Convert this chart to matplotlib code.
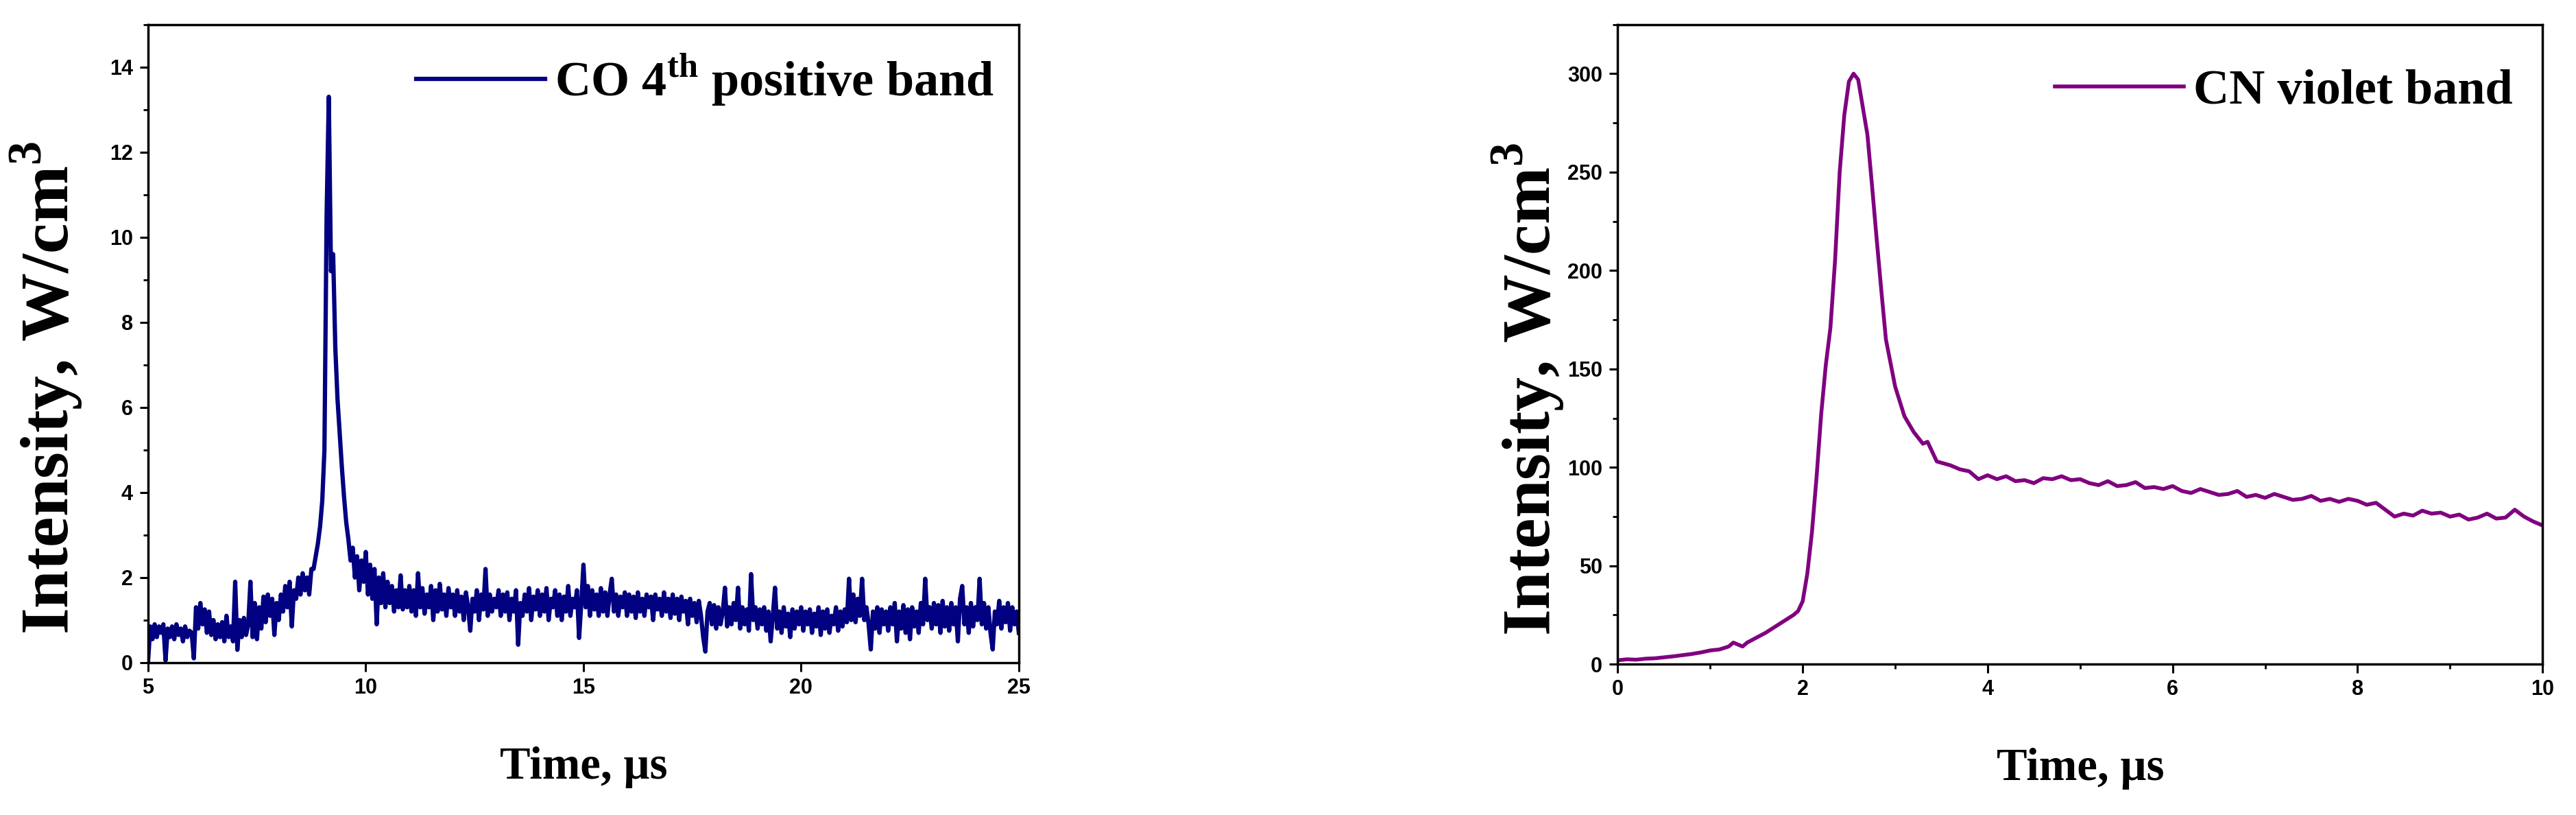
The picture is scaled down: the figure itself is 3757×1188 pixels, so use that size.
import numpy as np
import matplotlib
matplotlib.use('Agg')
import matplotlib.pyplot as plt
from matplotlib.ticker import MultipleLocator
from matplotlib.font_manager import FontProperties

# --- CO 4th positive band (left panel), sampled every 0.05 us from 5 to 25 us ---
co_intensity = [
    0.05, 0.85, 0.55, 0.9, 0.6, 0.85, 0.7, 0.9, 0.05, 0.8, 0.6, 0.85, 0.55, 0.9, 0.65, 0.8, 0.5, 0.85, 0.6, 0.75,   # 5
    0.7, 0.1, 1.3, 0.8, 1.4, 0.9, 1.25, 0.7, 1.2, 0.65, 1.0, 0.55, 0.9, 0.6, 0.95, 0.5, 1.1, 0.6, 0.85, 0.5,        # 6
    1.9, 0.3, 1.0, 0.6, 1.05, 0.65, 0.9, 1.9, 0.6, 1.4, 0.55, 1.3, 0.8, 1.55, 0.95, 1.6, 1.1, 1.5, 0.65, 1.4,       # 7
    1.0, 1.6, 1.2, 1.8, 1.3, 1.9, 0.85, 1.7, 1.5, 2.0, 1.6, 2.1, 1.7, 2.0, 1.6, 2.2, 2.2, 2.5, 2.8, 3.2,            # 8
    3.8, 5.0, 10.5, 13.3, 9.2, 9.6, 7.4, 6.2, 5.4, 4.6, 3.9, 3.3, 2.9, 2.4, 2.7, 2.0, 2.5, 1.7, 2.4, 1.9,          # 9
    2.6, 1.6, 2.3, 1.5, 2.2, 0.9, 2.0, 1.4, 2.1, 1.3, 1.9, 1.4, 1.8, 1.2, 1.7, 1.3, 2.05, 1.25, 1.7, 1.3,          # 10
    1.8, 1.2, 1.7, 1.1, 2.1, 1.3, 1.75, 1.15, 1.6, 1.3, 1.8, 1.0, 1.7, 1.2, 1.85, 1.25, 1.6, 1.1, 1.75, 1.3,       # 11
    1.6, 1.1, 1.7, 1.2, 1.55, 1.0, 1.65, 1.3, 0.75, 1.5, 1.2, 1.7, 1.0, 1.6, 1.25, 2.2, 1.1, 1.6, 1.2, 1.5,        # 12
    1.3, 1.7, 1.1, 1.6, 1.2, 1.65, 1.0, 1.5, 1.2, 1.7, 0.42, 1.4, 1.1, 1.6, 1.2, 1.75, 1.0, 1.55, 1.25, 1.7,       # 13
    1.1, 1.6, 1.2, 1.75, 1.0, 1.5, 1.3, 1.7, 1.1, 1.6, 1.0, 1.55, 1.2, 1.8, 1.1, 1.5, 1.3, 1.7, 0.58, 1.4,         # 14
    2.3, 1.3, 1.8, 1.1, 1.7, 1.25, 1.6, 1.1, 1.75, 1.2, 1.65, 1.1, 1.6, 1.97, 1.2, 1.6, 1.1, 1.55, 1.3, 1.65,      # 15
    1.1, 1.6, 1.2, 1.55, 1.05, 1.65, 1.2, 1.5, 1.1, 1.6, 1.3, 1.55, 1.0, 1.6, 1.25, 1.5, 1.1, 1.65, 1.2, 1.5,      # 16
    1.05, 1.6, 1.15, 1.5, 1.0, 1.55, 1.2, 1.45, 0.9, 1.5, 1.1, 1.4, 0.95, 1.45, 1.1, 0.6, 0.26, 1.2, 1.4, 0.9,     # 17
    1.35, 0.8, 1.3, 0.9, 1.2, 1.76, 0.85, 1.3, 0.9, 1.4, 1.0, 1.76, 0.8, 1.3, 0.9, 1.25, 0.75, 2.08, 1.0, 1.3,     # 18
    0.8, 1.25, 0.9, 1.3, 0.75, 1.2, 0.5, 1.1, 1.76, 0.8, 1.2, 0.7, 1.3, 0.85, 1.15, 0.6, 1.25, 0.8, 1.2, 0.9,      # 19
    1.3, 0.75, 1.2, 0.9, 1.25, 0.7, 1.15, 0.85, 1.3, 0.65, 1.2, 0.8, 1.25, 0.7, 1.1, 0.9, 1.3, 0.75, 1.2, 0.85,    # 20
    1.25, 0.95, 1.97, 1.0, 1.6, 0.95, 1.5, 1.1, 1.97, 1.0, 1.3, 0.9, 0.31, 1.2, 0.8, 1.3, 0.7, 1.25, 0.9, 1.2,     # 21
    0.75, 1.3, 0.9, 1.4, 0.5, 1.2, 0.8, 1.35, 0.7, 1.25, 0.55, 1.3, 0.85, 1.2, 0.7, 1.4, 0.9, 1.97, 1.0, 1.3,      # 22
    0.8, 1.4, 0.9, 1.35, 0.7, 1.45, 0.85, 1.3, 0.75, 1.4, 0.9, 1.3, 0.5, 1.5, 1.8, 0.9, 1.3, 0.7, 1.4, 0.85,       # 23
    1.3, 1.0, 1.97, 0.9, 1.4, 0.8, 1.3, 0.7, 0.31, 1.2, 0.9, 1.45, 0.8, 1.3, 0.95, 1.4, 0.75, 1.3, 0.9, 1.2,       # 24
    0.7,                                                                                                            # 25
]
co_time = np.linspace(5, 25, len(co_intensity))

# --- CN violet band (right panel) ---
cn_time = [0, 0.1, 0.2, 0.3, 0.4, 0.5, 0.6, 0.7, 0.8, 0.9, 1.0, 1.1, 1.2, 1.25, 1.3, 1.35, 1.4,
           1.5, 1.6, 1.7, 1.8, 1.9, 1.95, 2.0, 2.05, 2.1,
           2.15, 2.2, 2.25, 2.3, 2.35, 2.4, 2.45, 2.5, 2.55, 2.6, 2.65, 2.7, 2.75, 2.8, 2.85,
           2.9, 3.0, 3.1, 3.2, 3.3, 3.35, 3.4, 3.45, 3.6, 3.7, 3.8, 3.9, 4.0,
           4.1, 4.2, 4.3, 4.4, 4.5, 4.6, 4.7, 4.8, 4.9, 5.0,
           5.1, 5.2, 5.3, 5.4, 5.5, 5.6, 5.7, 5.8, 5.9, 6.0,
           6.1, 6.2, 6.3, 6.4, 6.5, 6.6, 6.7, 6.8, 6.9, 7.0,
           7.1, 7.2, 7.3, 7.4, 7.5, 7.6, 7.7, 7.8, 7.9, 8.0,
           8.1, 8.2, 8.3, 8.4, 8.5, 8.6, 8.7, 8.8, 8.9, 9.0,
           9.1, 9.2, 9.3, 9.4, 9.5, 9.6, 9.7, 9.8, 9.9, 10.0]
cn_intensity = [2, 2.5, 2.3, 2.8, 3, 3.5, 4, 4.6, 5.2, 6, 7, 7.5, 9, 11, 10, 9, 11,
                13.5, 16, 19, 22, 25, 27, 32, 46, 67,
                95, 127, 152, 171, 205, 250, 279, 296, 300, 297, 283, 269, 243, 216, 190,
                165, 141, 126, 118, 112, 113, 108, 103, 101, 99, 98, 94, 96,
                94, 95.5, 93, 93.5, 92, 94.5, 94, 95.5, 93.5, 94,
                92, 91, 93, 90.5, 91, 92.5, 89.5, 90, 89, 90.5,
                88, 87, 89, 87.5, 86, 86.5, 88, 85, 86, 84.5,
                86.5, 85, 83.5, 84, 85.5, 83, 84, 82.5, 84, 83,
                81, 82, 78.5, 75, 76.5, 75.5, 78, 76.5, 77, 75,
                76, 73.5, 74.5, 76.5, 74, 74.5, 78.5, 75, 72.5, 70.5]

plt.rcParams['mathtext.fontset'] = 'custom'
plt.rcParams['mathtext.rm'] = 'Liberation Serif:bold'
plt.rcParams['mathtext.bf'] = 'Liberation Serif:bold'

label_font = dict(family='Liberation Serif', weight='bold')
tick_font = dict(family='Liberation Sans', weight='bold', size=22)
legend_font = dict(family='Liberation Serif', weight='bold', size=52)

fig = plt.figure(figsize=(37.57, 11.88), dpi=100)
ax1 = fig.add_axes([0.0575, 0.187, 0.338, 0.783])
ax2 = fig.add_axes([0.628, 0.185, 0.359, 0.785])

ax1.plot(co_time, co_intensity, color='#000080', lw=4.5, label=r'CO 4$^{\mathrm{th}}$ positive band')
ax2.plot(cn_time, cn_intensity, color='#800080', lw=4, label='CN violet band')

ax1.set_xlim(5, 25)
ax1.set_ylim(0, 15)
ax1.xaxis.set_major_locator(MultipleLocator(5))
ax1.yaxis.set_major_locator(MultipleLocator(2))
ax1.yaxis.set_minor_locator(MultipleLocator(1))

ax2.set_xlim(0, 10)
ax2.set_ylim(0, 325)
ax2.xaxis.set_major_locator(MultipleLocator(2))
ax2.xaxis.set_minor_locator(MultipleLocator(1))
ax2.yaxis.set_major_locator(MultipleLocator(50))
ax2.yaxis.set_minor_locator(MultipleLocator(25))

for ax, ylab_x in [(ax1, -0.073), (ax2, -0.056)]:
    for s in ax.spines.values():
        s.set_linewidth(2.5)
    ax.tick_params(which='major', direction='out', length=9, width=2.2, pad=7, top=False, right=False)
    ax.tick_params(which='minor', direction='out', length=5, width=2, top=False, right=False)
    for lab in ax.get_xticklabels() + ax.get_yticklabels():
        lab.set_fontproperties(FontProperties(**tick_font))
    ax.set_xlabel('Time, µs', fontsize=48, labelpad=50, **label_font)
    ax.set_ylabel(r'Intensity, W/cm$^{\mathrm{3}}$', fontsize=72, **label_font)
    ax.yaxis.set_label_coords(ylab_x, 0.43)

ax1.legend(loc='center right', bbox_to_anchor=(0.972, 0.913), frameon=False, borderpad=0,
           borderaxespad=0, handlelength=2.6, handletextpad=0.2, prop=legend_font)
ax2.legend(loc='center right', bbox_to_anchor=(0.968, 0.895), frameon=False, borderpad=0,
           borderaxespad=0, handlelength=2.6, handletextpad=0.2, prop=legend_font)

fig.savefig('out.png', dpi=100, facecolor='white')
